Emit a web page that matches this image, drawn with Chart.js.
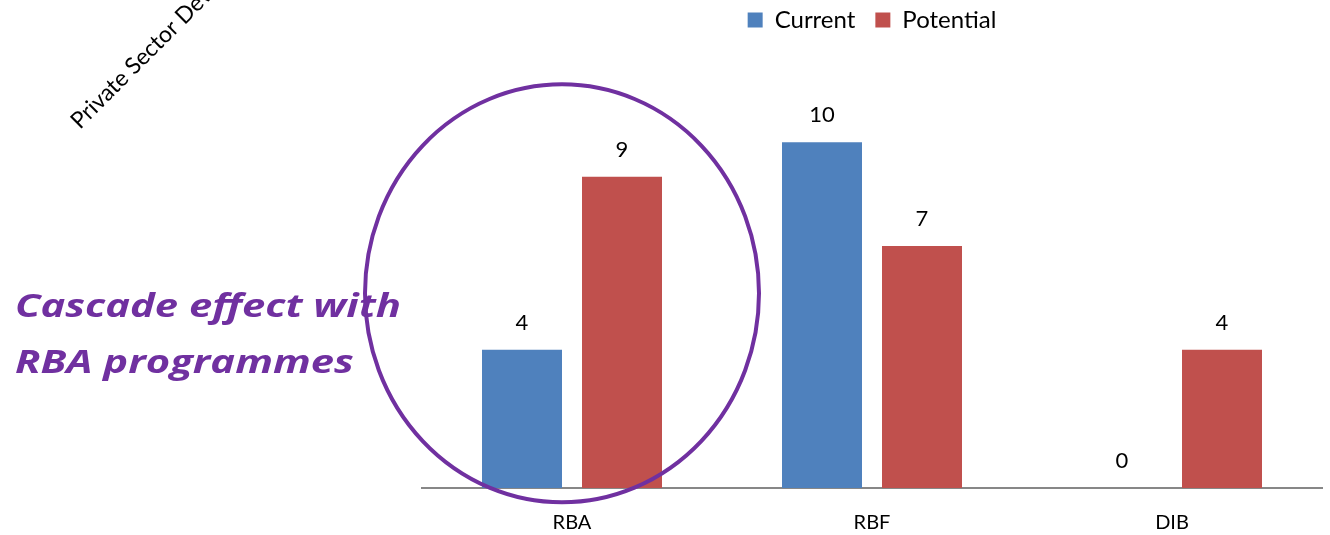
<!DOCTYPE html>
<html>
<head>
<meta charset="utf-8">
<script src="https://cdn.jsdelivr.net/npm/chart.js@4"></script>
<style>
  html, body { margin: 0; padding: 0; background: #fff; }
  #wrap { position: relative; width: 1330px; height: 535px; }
</style>
</head>
<body>
<div id="wrap"><canvas id="chart" width="1330" height="535"></canvas></div>
<script>
// bar values
const categories = ["RBA", "RBF", "DIB"];
const currentValues = [4, 10, 0];
const potentialValues = [9, 7, 4];
const seriesNames = ["Current", "Potential"];

const BLUE = "#4F81BD";
const RED = "#C0504D";
const PURPLE = "#7030A0";
const FONT = "Lato, 'Open Sans', sans-serif";

// value labels above every bar
const valueLabels = {
  id: "valueLabels",
  afterDatasetsDraw(chart) {
    const ctx = chart.ctx;
    ctx.save();
    ctx.fillStyle = "#000";
    ctx.font = `22px ${FONT}`;
    ctx.textAlign = "center";
    ctx.textBaseline = "middle";
    chart.data.datasets.forEach((ds, i) => {
      chart.getDatasetMeta(i).data.forEach((bar, j) => {
        ctx.fillText(String(ds.data[j]), bar.x, bar.y - 27);
      });
    });
    ctx.restore();
  },
};

// text stretched sideways (the slide was stretched sideways)
function wideText(ctx, text, x, y, sx) {
  ctx.save();
  ctx.translate(x, y);
  ctx.scale(sx, 1);
  ctx.fillText(text, 0, 0);
  ctx.restore();
}

// the circled note and the clipped rotated title from the slide
const annotations = {
  id: "annotations",
  afterDraw(chart) {
    const ctx = chart.ctx;
    const x = chart.scales.x;
    const y = chart.scales.y;
    ctx.save();

    ctx.strokeStyle = PURPLE;
    ctx.lineWidth = 4;
    ctx.beginPath();
    ctx.ellipse(x.getPixelForValue(0) - 10, y.getPixelForValue(5.63), 197, 209, 0, 0, Math.PI * 2);
    ctx.stroke();

    ctx.fillStyle = PURPLE;
    ctx.font = `italic bold 32px 'Open Sans', ${FONT}`;
    ctx.textAlign = "left";
    ctx.textBaseline = "alphabetic";
    const sx = 386 / ctx.measureText("Cascade effect with").width;
    wideText(ctx, "Cascade effect with", 15, 317, sx);
    wideText(ctx, "RBA programmes", 15, 373, sx);

    ctx.translate(80, 130);
    ctx.rotate(-Math.PI / 4);
    ctx.fillStyle = "#000";
    ctx.font = `23px ${FONT}`;
    ctx.fillText("Private Sector Development", 0, 0);
    ctx.restore();
  },
};

new Chart(document.getElementById("chart"), {
  type: "bar",
  data: {
    labels: categories,
    datasets: [
      { label: seriesNames[0], data: currentValues, backgroundColor: BLUE },
      { label: seriesNames[1], data: potentialValues, backgroundColor: RED },
    ],
  },
  options: {
    responsive: false,
    animation: false,
    layout: { padding: { left: 422, right: 8, top: -12, bottom: 0 } },
    datasets: { bar: { categoryPercentage: 2 / 3, barPercentage: 0.8 } },
    plugins: {
      legend: {
        position: "top",
        fullSize: false,
        labels: {
          boxWidth: 15,
          boxHeight: 15,
          padding: 20,
          color: "#000",
          font: { family: FONT, size: 24 },
        },
      },
      tooltip: { enabled: false },
    },
    scales: {
      x: {
        grid: { display: false, drawTicks: false },
        border: { display: true, color: "#878787", width: 2 },
        ticks: { color: "#000", font: { family: FONT, size: 20 }, padding: 23 },
        afterFit: (scale) => { scale.height = 47; },
      },
      y: {
        display: false,
        min: 0,
        max: 12.9,
      },
    },
  },
  plugins: [valueLabels, annotations],
});
</script>
</body>
</html>
